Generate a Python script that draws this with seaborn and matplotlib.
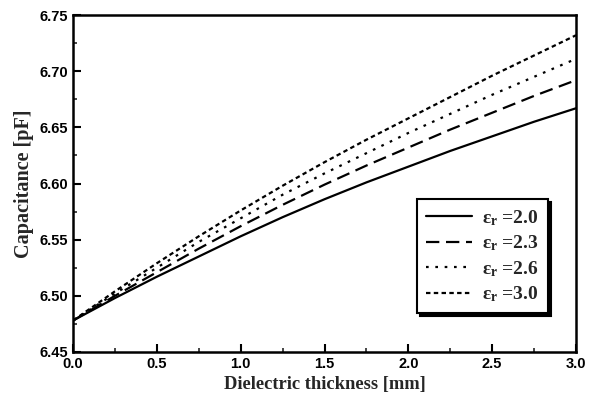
import matplotlib
matplotlib.use("Agg")
import matplotlib.pyplot as plt
import seaborn as sns
import pandas as pd
from matplotlib.ticker import MultipleLocator, FormatStrFormatter

sns.set_theme(style="white")
plt.rcParams['font.family'] = ['Liberation Sans', 'DejaVu Sans']
plt.rcParams['mathtext.fontset'] = 'custom'
plt.rcParams['mathtext.rm'] = 'Liberation Serif:bold'
plt.rcParams['mathtext.it'] = 'Liberation Serif:bold'
plt.rcParams['mathtext.bf'] = 'Liberation Serif:bold'

thickness = [0.0, 0.25, 0.5, 0.75, 1.0, 1.25, 1.5, 1.75, 2.0, 2.25, 2.5, 2.75, 3.0]
cap_20 = [6.478, 6.498, 6.517, 6.535, 6.553, 6.570, 6.586, 6.601, 6.615, 6.629, 6.642, 6.655, 6.667]
cap_23 = [6.478, 6.500, 6.521, 6.542, 6.562, 6.581, 6.599, 6.616, 6.632, 6.648, 6.663, 6.678, 6.692]
cap_26 = [6.478, 6.502, 6.525, 6.548, 6.569, 6.590, 6.609, 6.627, 6.645, 6.662, 6.679, 6.695, 6.711]
cap_30 = [6.478, 6.504, 6.529, 6.553, 6.576, 6.598, 6.619, 6.639, 6.658, 6.677, 6.696, 6.714, 6.732]
labels = ["ε$_{\\rm r}$ =2.0", "ε$_{\\rm r}$ =2.3", "ε$_{\\rm r}$ =2.6", "ε$_{\\rm r}$ =3.0"]

series = [cap_20, cap_23, cap_26, cap_30]
styles = ['-', (0, (6, 3)), (0, (1.2, 3)), (0, (2, 1.5))]

fig = plt.figure(figsize=(5.95, 4.05), dpi=100)
ax = fig.add_axes([0.1227, 0.1309, 0.8454, 0.832])

for vals, lab, ls in zip(series, labels, styles):
    df = pd.DataFrame({"x": thickness, "y": vals})
    sns.lineplot(data=df, x="x", y="y", ax=ax, color="black", linewidth=1.6,
                 linestyle=ls, label=lab)

ax.set_xlim(0, 3.0)
ax.set_ylim(6.45, 6.75)
ax.xaxis.set_major_locator(MultipleLocator(0.5))
ax.xaxis.set_minor_locator(MultipleLocator(0.25))
ax.yaxis.set_major_locator(MultipleLocator(0.05))
ax.yaxis.set_minor_locator(MultipleLocator(0.025))
ax.xaxis.set_major_formatter(FormatStrFormatter('%.1f'))
ax.yaxis.set_major_formatter(FormatStrFormatter('%.2f'))
ax.tick_params(which='major', direction='in', length=6, width=1.5, labelsize=10.5,
               bottom=True, left=True, top=False, right=False, colors='black')
ax.tick_params(which='minor', direction='in', length=3, width=1.2,
               bottom=True, left=True, top=False, right=False)
for lab in ax.get_xticklabels() + ax.get_yticklabels():
    lab.set_fontweight('bold')
for sp in ax.spines.values():
    sp.set_linewidth(1.8)
    sp.set_color('black')

ax.set_xlabel("Dielectric thickness [mm]", family=['Liberation Serif'], fontweight='bold',
              fontsize=13.3, labelpad=4)
ax.set_ylabel("Capacitance [pF]", family=['Liberation Serif'], fontweight='bold',
              fontsize=14.5, labelpad=4)

leg = ax.legend(loc='lower left', bbox_to_anchor=(0.684, 0.116, 0.26, 0.356),
                mode='expand', frameon=True, fancybox=False,
                shadow={'color': 'black', 'alpha': 1.0},
                edgecolor='black', prop={'family': 'Liberation Serif', 'weight': 'bold', 'size': 14},
                handlelength=2.4, handletextpad=0.5, borderaxespad=0, labelspacing=0.3,
                borderpad=0.45)
leg.get_frame().set_linewidth(1.5)

fig.savefig("out.png", dpi=100)
